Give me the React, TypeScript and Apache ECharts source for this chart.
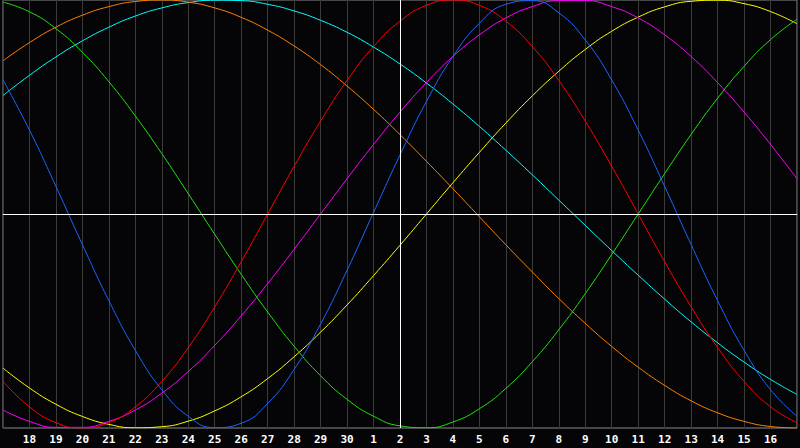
import React, { useEffect, useRef } from "react";
import * as echarts from "echarts";

const days = ["17","18","19","20","21","22","23","24","25","26","27","28","29","30","1","2","3","4","5","6","7","8","9","10","11","12","13","14","15","16","17"];

const physical = [0.626,0.392,0.129,-0.143,-0.405,-0.637,-0.821,-0.945,-0.998,-0.978,-0.885,-0.726,-0.514,-0.263,0.007,0.276,0.526,0.736,0.891,0.980,0.997,0.940,0.813,0.626,0.392,0.129,-0.143,-0.405,-0.637,-0.821,-0.945];
const emotional = [-0.782,-0.901,-0.975,-1,-0.975,-0.901,-0.782,-0.624,-0.434,-0.223,0,0.223,0.434,0.624,0.782,0.901,0.975,1,0.975,0.901,0.782,0.624,0.434,0.223,0,-0.223,-0.434,-0.624,-0.782,-0.901,-0.975];
const intellectual = [0.990,0.945,0.866,0.756,0.618,0.458,0.282,0.095,-0.095,-0.282,-0.458,-0.618,-0.756,-0.866,-0.945,-0.990,-0.999,-0.972,-0.910,-0.815,-0.690,-0.541,-0.372,-0.189,0,0.189,0.372,0.541,0.690,0.815,0.910];
const intuitive = [-0.916,-0.969,-0.997,-0.997,-0.969,-0.916,-0.837,-0.736,-0.614,-0.476,-0.325,-0.165,0,0.165,0.325,0.476,0.614,0.736,0.837,0.916,0.969,0.997,0.997,0.969,0.916,0.837,0.736,0.614,0.476,0.325,0.165];
const aesthetic = [-0.720,-0.813,-0.889,-0.946,-0.983,-0.999,-0.994,-0.968,-0.920,-0.854,-0.769,-0.667,-0.552,-0.425,-0.288,-0.146,0,0.146,0.288,0.425,0.552,0.667,0.769,0.854,0.920,0.968,0.994,0.999,0.983,0.946,0.889];
const awareness = [0.716,0.801,0.873,0.929,0.969,0.993,1.0,0.990,0.963,0.919,0.859,0.785,0.698,0.598,0.489,0.371,0.246,0.118,-0.013,-0.144,-0.271,-0.395,-0.511,-0.619,-0.716,-0.801,-0.873,-0.929,-0.969,-0.993,-1.0];
const spiritual = [0.554,0.648,0.734,0.809,0.873,0.925,0.963,0.988,0.999,0.997,0.980,0.949,0.905,0.849,0.780,0.701,0.612,0.514,0.409,0.298,0.183,0.065,-0.053,-0.171,-0.286,-0.398,-0.504,-0.602,-0.692,-0.773,-0.843];

const seriesDefs = [
  { name: "Spiritual", data: spiritual, color: "#00ffff" },
  { name: "Awareness", data: awareness, color: "#ff8000" },
  { name: "Aesthetic", data: aesthetic, color: "#ffff00" },
  { name: "Intuitive", data: intuitive, color: "#ff00ff" },
  { name: "Intellectual", data: intellectual, color: "#22e010" },
  { name: "Emotional", data: emotional, color: "#ff0000" },
  { name: "Physical", data: physical, color: "#1a66ff" },
];

const TODAY_INDEX = 15;

export default function App() {
  const ref = useRef<HTMLDivElement>(null);
  useEffect(() => {
    if (!ref.current) return;
    const chart = echarts.init(ref.current, undefined, { renderer: "svg" });
    const series: any[] = seriesDefs.map((s) => ({
      name: s.name,
      type: "line",
      data: s.data,
      smooth: true,
      showSymbol: false,
      symbol: "none",
      lineStyle: { color: s.color, width: 1 },
      itemStyle: { color: s.color },
    }));
    series.push({
      name: "ref",
      type: "line",
      data: [],
      markLine: {
        silent: true,
        symbol: "none",
        label: { show: false },
        lineStyle: { color: "#ffffff", width: 1, type: "solid" },
        data: [{ yAxis: 0 }, { xAxis: TODAY_INDEX }],
      },
    });
    chart.setOption({
      animation: false,
      backgroundColor: "#050508",
      grid: {
        left: 0,
        right: 1,
        top: 0,
        bottom: 20,
        show: true,
        borderColor: "#8a8a8a",
        borderWidth: 1,
        backgroundColor: "#050508",
      },
      xAxis: {
        type: "category",
        data: days,
        boundaryGap: false,
        axisTick: { show: false },
        axisLine: { lineStyle: { color: "#a0a0a0", width: 1 } },
        splitLine: { show: true, interval: 0, lineStyle: { color: "#3a3a3a", width: 1 } },
        axisLabel: {
          interval: 0,
          color: "#ffffff",
          fontFamily: "DejaVu Sans Mono",
          fontWeight: "bold",
          fontSize: 11,
          margin: 6,
          formatter: (v: string, i: number) => (i === 0 || i === days.length - 1 ? "" : v),
        },
      },
      yAxis: {
        type: "value",
        min: -1,
        max: 1,
        show: false,
        splitLine: { show: false },
      },
      series,
    });
    return () => chart.dispose();
  }, []);
  return (
    <div
      ref={ref}
      style={{ position: "fixed", left: 0, top: 0, width: 800, height: 448, background: "#050508" }}
    />
  );
}
